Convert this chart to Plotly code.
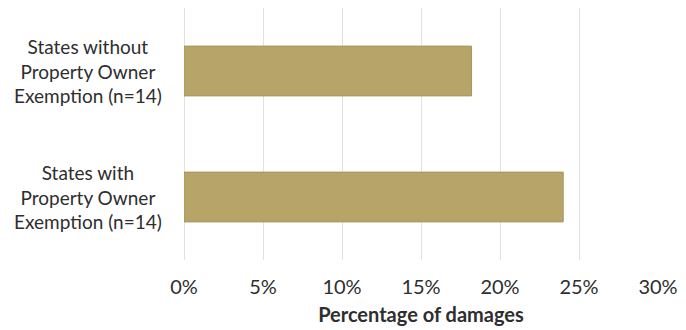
import plotly.graph_objects as go

# Share of damages by state group
categories = [
    "States with<br>Property Owner<br>Exemption (n=14)",
    "States without<br>Property Owner<br>Exemption (n=14)",
]
values = [24.0, 18.2]
tick_vals = [0, 5, 10, 15, 20, 25, 30]
tick_text = ["0%", "5%", "10%", "15%", "20%", "25%", "30%"]

font_family = "Lato, 'Noto Sans', sans-serif"
text_color = "#2E2E2E"
font_size = 20

fig = go.Figure(
    go.Bar(
        x=values,
        y=categories,
        orientation="h",
        marker=dict(color="#B7A468", line=dict(color="#A6955A", width=1)),
        hoverinfo="x+y",
    )
)

# Centered multi-line category labels to the left of the plot area
for cat in categories:
    fig.add_annotation(
        x=0, xref="paper", xanchor="right", xshift=-20,
        y=cat, yref="y", yanchor="middle",
        text=cat, showarrow=False, align="center",
        font=dict(family=font_family, size=19, color=text_color),
    )

fig.update_layout(
    width=686, height=330,
    margin=dict(l=184, r=22, t=8, b=69),
    paper_bgcolor="white", plot_bgcolor="white",
    bargap=0.605,
    showlegend=False,
    font=dict(family=font_family, size=font_size, color=text_color),
)

fig.update_xaxes(
    range=[0, 30],
    tickvals=tick_vals, ticktext=tick_text,
    showgrid=True, gridcolor="#E2E2E2", gridwidth=1,
    zeroline=True, zerolinecolor="#E2E2E2", zerolinewidth=1,
    showline=False,
    ticks="outside", ticklen=9, tickcolor="rgba(0,0,0,0)",
    tickfont=dict(family=font_family, size=font_size, color=text_color),
    title=dict(
        text="<b>Percentage of damages</b>",
        font=dict(family=font_family, size=font_size, color=text_color),
        standoff=10,
    ),
    fixedrange=True,
)

fig.update_yaxes(
    showticklabels=False, showgrid=False, zeroline=False,
    showline=False, ticks="", fixedrange=True,
)

fig.write_html("out.html")
